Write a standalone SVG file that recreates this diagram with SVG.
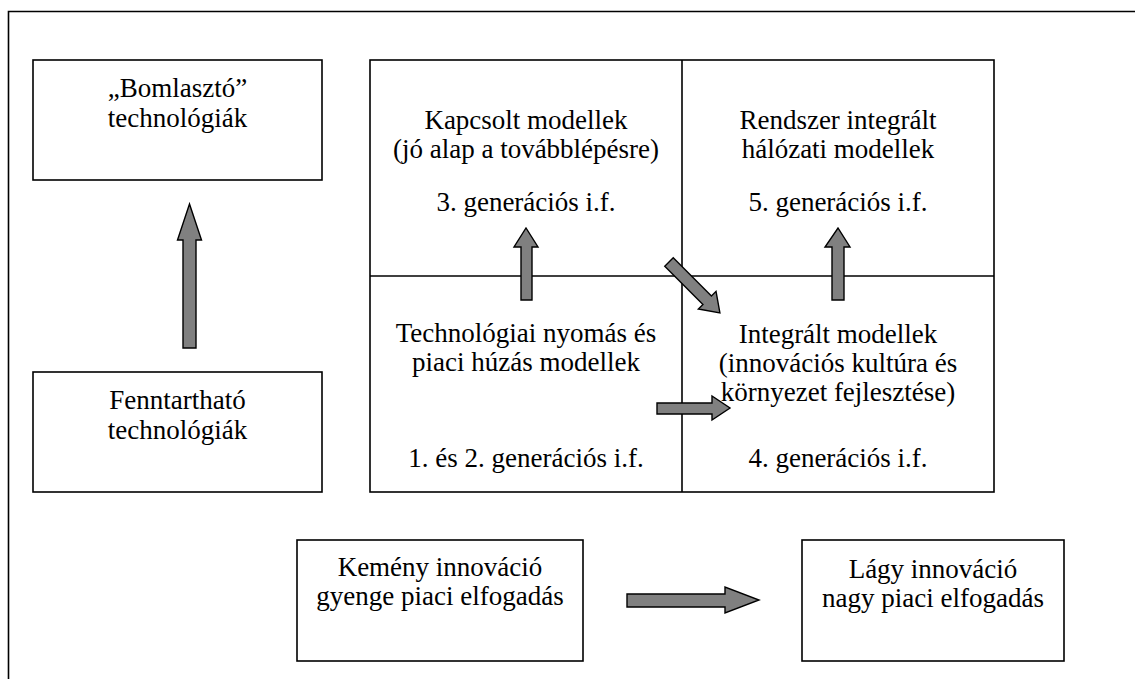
<svg xmlns="http://www.w3.org/2000/svg" width="1135" height="679" viewBox="0 0 1135 679">
  <style>
    .box { fill: #fff; stroke: #000; stroke-width: 1.6; }
    .line { fill: none; stroke: #000; stroke-width: 1.6; }
    .arrow { fill: #808080; stroke: #000; stroke-width: 1.4; stroke-linejoin: miter; }
    .t { font-family: 'Liberation Serif', 'DejaVu Serif', serif; font-size: 27px; fill: #000; text-anchor: middle; }
  </style>

  <rect width="1135" height="679" fill="#fff"/>

  <!-- outer frame (open to the right and bottom) -->
  <g id="frame">
    <path class="line" d="M8.5,679 L8.5,11.5 L1135,11.5"/>
  </g>

  <!-- left column -->
  <g id="node-bomlaszto">
    <rect class="box" x="33" y="60" width="289" height="120"/>
    <text class="t" x="177.5" y="97">„Bomlasztó”</text>
    <text class="t" x="177.5" y="127">technológiák</text>
  </g>
  <g id="node-fenntarthato">
    <rect class="box" x="33" y="372" width="289" height="120"/>
    <text class="t" x="177.5" y="409">Fenntartható</text>
    <text class="t" x="177.5" y="439">technológiák</text>
  </g>

  <!-- 2x2 model grid -->
  <g id="grid">
    <rect class="box" x="370" y="60" width="624" height="432"/>
    <line class="line" x1="370" y1="276" x2="994" y2="276"/>
    <line class="line" x1="682" y1="60" x2="682" y2="492"/>
  </g>
  <g id="node-kapcsolt">
    <text class="t" x="526" y="129">Kapcsolt modellek</text>
    <text class="t" x="526" y="158">(jó alap a továbblépésre)</text>
    <text class="t" x="526" y="211">3. generációs i.f.</text>
  </g>
  <g id="node-rendszer">
    <text class="t" x="838" y="129">Rendszer integrált</text>
    <text class="t" x="838" y="158">hálózati modellek</text>
    <text class="t" x="838" y="211">5. generációs i.f.</text>
  </g>
  <g id="node-technologiai">
    <text class="t" x="526" y="342">Technológiai nyomás és</text>
    <text class="t" x="526" y="371">piaci húzás modellek</text>
    <text class="t" x="526" y="467">1. és 2. generációs i.f.</text>
  </g>
  <g id="node-integralt">
    <text class="t" x="838" y="343">Integrált modellek</text>
    <text class="t" x="838" y="372">(innovációs kultúra és</text>
    <text class="t" x="838" y="401">környezet fejlesztése)</text>
    <text class="t" x="838" y="467">4. generációs i.f.</text>
  </g>

  <!-- bottom row -->
  <g id="node-kemeny">
    <rect class="box" x="297" y="540" width="286" height="121"/>
    <text class="t" x="440" y="576">Kemény innováció</text>
    <text class="t" x="440" y="605">gyenge piaci elfogadás</text>
  </g>
  <g id="node-lagy">
    <rect class="box" x="802" y="540" width="262" height="121"/>
    <text class="t" x="933" y="578">Lágy innováció</text>
    <text class="t" x="933" y="607">nagy piaci elfogadás</text>
  </g>

  <!-- block arrows -->
  <g id="connectors">
    <path class="arrow" d="M183,348 L183,240 L177.5,240 L189.5,204 L201.5,240 L196,240 L196,348 Z"/>
    <path class="arrow" d="M521,300 L521,247 L514,247 L526,228 L538,247 L532,247 L532,300 Z"/>
    <path class="arrow" d="M832,300 L832,247 L825,247 L838,228 L850,247 L844,247 L844,300 Z"/>
    <path class="arrow" d="M0,-6 L54,-6 L54,-12.5 L72,0 L54,12.5 L54,6 L0,6 Z" transform="translate(669,262) rotate(45)"/>
    <path class="arrow" d="M657,403 L712,403 L712,396 L730,408 L712,420 L712,414 L657,414 Z"/>
    <path class="arrow" d="M627,594 L725,594 L725,587 L759,600 L725,613 L725,607 L627,607 Z"/>
  </g>
</svg>
